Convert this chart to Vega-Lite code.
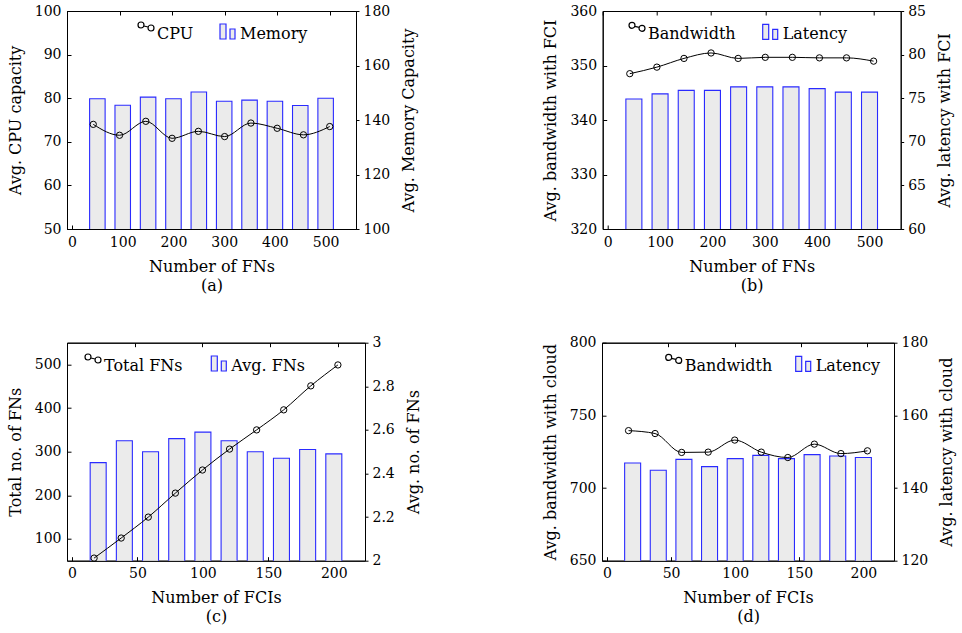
{
  "$schema": "https://vega.github.io/schema/vega-lite/v6.json",
  "padding": {"left": 6, "top": 3, "right": 5, "bottom": 5},
  "background": "white",
  "config": {
    "font": "DejaVu Serif",
    "view": {"stroke": "black", "strokeWidth": 1},
    "axis": {"domainColor": "black", "tickColor": "black", "labelColor": "black", "titleColor": "black", "labelFontSize": 14, "titleFontSize": 16, "titleFontWeight": "normal", "grid": false, "labelFont": "DejaVu Serif", "titleFont": "DejaVu Serif", "labelOverlap": false, "labelFlush": false, "domainWidth": 1, "tickWidth": 1},
    "legend": {"labelFontSize": 16, "labelFont": "DejaVu Serif", "labelColor": "black", "orient": "none", "padding": 0, "symbolSize": 400, "labelOffset": 0, "title": null, "symbolStrokeWidth": 1.2}
  },
  "datasets": {
    "a": [
      {"n": 50, "cpu": 74.0, "memory": 147.8},
      {"n": 100, "cpu": 71.5, "memory": 145.4},
      {"n": 150, "cpu": 74.7, "memory": 148.4},
      {"n": 200, "cpu": 70.8, "memory": 147.8},
      {"n": 250, "cpu": 72.4, "memory": 150.3},
      {"n": 300, "cpu": 71.2, "memory": 146.9},
      {"n": 350, "cpu": 74.3, "memory": 147.3},
      {"n": 400, "cpu": 73.1, "memory": 146.9},
      {"n": 450, "cpu": 71.6, "memory": 145.3},
      {"n": 500, "cpu": 73.5, "memory": 148.0}
    ],
    "b": [
      {"n": 50, "bandwidth": 348.5, "latency": 74.9},
      {"n": 100, "bandwidth": 349.7, "latency": 75.5},
      {"n": 150, "bandwidth": 351.3, "latency": 75.9},
      {"n": 200, "bandwidth": 352.3, "latency": 75.9},
      {"n": 250, "bandwidth": 351.3, "latency": 76.3},
      {"n": 300, "bandwidth": 351.5, "latency": 76.3},
      {"n": 350, "bandwidth": 351.5, "latency": 76.3},
      {"n": 400, "bandwidth": 351.4, "latency": 76.1},
      {"n": 450, "bandwidth": 351.4, "latency": 75.7},
      {"n": 500, "bandwidth": 350.8, "latency": 75.7}
    ],
    "c": [
      {"fci": 20, "total": 56, "avg": 2.45},
      {"fci": 40, "total": 102, "avg": 2.55},
      {"fci": 60, "total": 150, "avg": 2.5},
      {"fci": 80, "total": 205, "avg": 2.56},
      {"fci": 100, "total": 258, "avg": 2.59},
      {"fci": 120, "total": 306, "avg": 2.55},
      {"fci": 140, "total": 350, "avg": 2.5},
      {"fci": 160, "total": 396, "avg": 2.47},
      {"fci": 180, "total": 451, "avg": 2.51},
      {"fci": 200, "total": 499, "avg": 2.49}
    ],
    "d": [
      {"fci": 20, "bandwidth": 739.5, "latency": 146.9},
      {"fci": 40, "bandwidth": 737.5, "latency": 144.9},
      {"fci": 60, "bandwidth": 724.5, "latency": 147.9},
      {"fci": 80, "bandwidth": 724.7, "latency": 145.9},
      {"fci": 100, "bandwidth": 733.0, "latency": 148.1},
      {"fci": 120, "bandwidth": 724.7, "latency": 149.0},
      {"fci": 140, "bandwidth": 721.0, "latency": 148.1},
      {"fci": 160, "bandwidth": 730.2, "latency": 149.2},
      {"fci": 180, "bandwidth": 723.7, "latency": 148.8},
      {"fci": 200, "bandwidth": 725.6, "latency": 148.4}
    ]
  },
  "bounds": "flush",
  "spacing": 331.7,
  "vconcat": [
    {
      "bounds": "flush",
      "spacing": 246.7,
      "hconcat": [
        {
          "width": 289, "height": 218,
          "data": {"name": "a"},
          "layer": [
            {
              "mark": {"type": "bar", "stroke": "#2a2aff", "strokeWidth": 1.1, "size": 15.5, "clip": true},
              "encoding": {
                "x": {"field": "n", "type": "quantitative", "scale": {"domain": [0, 550]}, "axis": {"orient": "bottom", "values": [0, 100, 200, 300, 400, 500], "tickSize": -4, "labelPadding": 10, "title": ["Number of FNs", "(a)"], "titlePadding": 9, "titleLineHeight": 19}},
                "y": {"field": "memory", "type": "quantitative", "scale": {"domain": [100, 180]}, "axis": {"orient": "right", "values": [100, 120, 140, 160, 180], "tickSize": 3, "labelPadding": 4, "title": "Avg. Memory Capacity", "titleAngle": -90, "titleBaseline": "top", "titlePadding": 11}},
                "fill": {"datum": "Memory", "type": "nominal", "scale": {"range": ["#ebebeb"]}, "legend": {"legendX": 151, "legendY": 12, "symbolType": "M -0.9 -1 H -0.3 V 0.5 H -0.9 Z M 0.1 -0.5 H 0.6 V 0.5 H 0.1 Z", "symbolStrokeColor": "#2a2aff"}}
              }
            },
            {
              "mark": {"type": "line", "strokeWidth": 1, "interpolate": "monotone", "point": {"filled": false, "size": 40, "strokeWidth": 1}},
              "encoding": {
                "x": {"field": "n", "type": "quantitative", "scale": {"domain": [0, 550]}, "axis": {"orient": "top", "values": [0, 100, 200, 300, 400, 500], "tickSize": -4, "labels": false, "title": null}},
                "y": {"field": "cpu", "type": "quantitative", "scale": {"domain": [50, 100]}, "axis": {"orient": "left", "values": [50, 60, 70, 80, 90, 100], "tickSize": -4, "labelPadding": 10, "title": "Avg. CPU capacity", "titlePadding": 11}},
                "stroke": {"datum": "CPU", "type": "nominal", "scale": {"range": ["black"]}, "legend": {"legendX": 68, "legendY": 12, "symbolType": "M -0.8 -0.9 A 0.3 0.3 0 1 0 -0.2 -0.9 A 0.3 0.3 0 1 0 -0.8 -0.9 Z M 0.2 -0.6 A 0.3 0.3 0 1 0 0.8 -0.6 A 0.3 0.3 0 1 0 0.2 -0.6 Z M -0.22 -0.8 L 0.22 -0.7", "symbolFillColor": "transparent"}}
              }
            }
          ],
          "resolve": {"scale": {"x": "independent", "y": "independent", "fill": "independent", "stroke": "independent"}}
        },
        {
          "width": 298, "height": 218,
          "data": {"name": "b"},
          "layer": [
            {
              "mark": {"type": "bar", "stroke": "#2a2aff", "strokeWidth": 1.1, "size": 16, "clip": true},
              "encoding": {
                "x": {"field": "n", "type": "quantitative", "scale": {"domain": [0, 550]}, "axis": {"orient": "bottom", "values": [0, 100, 200, 300, 400, 500], "tickSize": -4, "labelPadding": 10, "title": ["Number of FNs", "(b)"], "titlePadding": 9, "titleLineHeight": 19}},
                "y": {"field": "latency", "type": "quantitative", "scale": {"domain": [60, 85]}, "axis": {"orient": "right", "values": [60, 65, 70, 75, 80, 85], "tickSize": 3, "labelPadding": 4, "title": "Avg. latency with FCI", "titleAngle": -90, "titleBaseline": "top", "titlePadding": 11}},
                "fill": {"datum": "Latency", "type": "nominal", "scale": {"range": ["#ebebeb"]}, "legend": {"legendX": 158, "legendY": 12.3, "symbolType": "M -0.9 -1 H -0.3 V 0.5 H -0.9 Z M 0.1 -0.5 H 0.6 V 0.5 H 0.1 Z", "symbolStrokeColor": "#2a2aff"}}
              }
            },
            {
              "mark": {"type": "line", "strokeWidth": 1, "interpolate": "monotone", "point": {"filled": false, "size": 40, "strokeWidth": 1}},
              "encoding": {
                "x": {"field": "n", "type": "quantitative", "scale": {"domain": [0, 550]}, "axis": {"orient": "top", "values": [0, 100, 200, 300, 400, 500], "tickSize": -4, "labels": false, "title": null}},
                "y": {"field": "bandwidth", "type": "quantitative", "scale": {"domain": [320, 360]}, "axis": {"orient": "left", "values": [320, 330, 340, 350, 360], "tickSize": -4, "labelPadding": 10, "title": "Avg. bandwidth with FCI", "titlePadding": 11}},
                "stroke": {"datum": "Bandwidth", "type": "nominal", "scale": {"range": ["black"]}, "legend": {"legendX": 23.3, "legendY": 12.3, "symbolType": "M -0.8 -0.9 A 0.3 0.3 0 1 0 -0.2 -0.9 A 0.3 0.3 0 1 0 -0.8 -0.9 Z M 0.2 -0.6 A 0.3 0.3 0 1 0 0.8 -0.6 A 0.3 0.3 0 1 0 0.2 -0.6 Z M -0.22 -0.8 L 0.22 -0.7", "symbolFillColor": "transparent"}}
              }
            }
          ],
          "resolve": {"scale": {"x": "independent", "y": "independent", "fill": "independent", "stroke": "independent"}}
        }
      ]
    },
    {
      "bounds": "flush",
      "spacing": 237,
      "hconcat": [
        {
          "width": 298, "height": 218,
          "data": {"name": "c"},
          "layer": [
            {
              "mark": {"type": "bar", "stroke": "#2a2aff", "strokeWidth": 1.1, "size": 16, "clip": true},
              "encoding": {
                "x": {"field": "fci", "type": "quantitative", "scale": {"domain": [0, 220]}, "axis": {"orient": "bottom", "values": [0, 50, 100, 150, 200], "tickSize": -4, "labelPadding": 10, "title": ["Number of FCIs", "(c)"], "titlePadding": 9, "titleLineHeight": 19}},
                "y": {"field": "avg", "type": "quantitative", "scale": {"domain": [2, 3]}, "axis": {"orient": "right", "values": [2, 2.2, 2.4, 2.6, 2.8, 3], "format": "~g", "tickSize": 3, "labelPadding": 4, "title": "Avg. no. of FNs", "titleAngle": -90, "titleBaseline": "top", "titlePadding": 11}},
                "fill": {"datum": "Avg. FNs", "type": "nominal", "scale": {"range": ["#ebebeb"]}, "legend": {"legendX": 142.3, "legendY": 12.3, "symbolType": "M -0.9 -1 H -0.3 V 0.5 H -0.9 Z M 0.1 -0.5 H 0.6 V 0.5 H 0.1 Z", "symbolStrokeColor": "#2a2aff"}}
              }
            },
            {
              "mark": {"type": "line", "strokeWidth": 1, "interpolate": "monotone", "point": {"filled": false, "size": 40, "strokeWidth": 1}},
              "encoding": {
                "x": {"field": "fci", "type": "quantitative", "scale": {"domain": [0, 220]}, "axis": {"orient": "top", "values": [0, 50, 100, 150, 200], "tickSize": -4, "labels": false, "title": null}},
                "y": {"field": "total", "type": "quantitative", "scale": {"domain": [50, 550]}, "axis": {"orient": "left", "values": [100, 200, 300, 400, 500], "tickSize": -4, "labelPadding": 10, "title": "Total no. of FNs", "titlePadding": 11}},
                "stroke": {"datum": "Total FNs", "type": "nominal", "scale": {"range": ["black"]}, "legend": {"legendX": 15, "legendY": 12.3, "symbolType": "M -0.8 -0.9 A 0.3 0.3 0 1 0 -0.2 -0.9 A 0.3 0.3 0 1 0 -0.8 -0.9 Z M 0.2 -0.6 A 0.3 0.3 0 1 0 0.8 -0.6 A 0.3 0.3 0 1 0 0.2 -0.6 Z M -0.22 -0.8 L 0.22 -0.7", "symbolFillColor": "transparent"}}
              }
            }
          ],
          "resolve": {"scale": {"x": "independent", "y": "independent", "fill": "independent", "stroke": "independent"}}
        },
        {
          "width": 292, "height": 218,
          "data": {"name": "d"},
          "layer": [
            {
              "mark": {"type": "bar", "stroke": "#2a2aff", "strokeWidth": 1.1, "size": 16, "clip": true},
              "encoding": {
                "x": {"field": "fci", "type": "quantitative", "scale": {"domain": [0, 220]}, "axis": {"orient": "bottom", "values": [0, 50, 100, 150, 200], "tickSize": -4, "labelPadding": 10, "title": ["Number of FCIs", "(d)"], "titlePadding": 9, "titleLineHeight": 19}},
                "y": {"field": "latency", "type": "quantitative", "scale": {"domain": [120, 180]}, "axis": {"orient": "right", "values": [120, 140, 160, 180], "tickSize": 3, "labelPadding": 4, "title": "Avg. latency with cloud", "titleAngle": -90, "titleBaseline": "top", "titlePadding": 11}},
                "fill": {"datum": "Latency", "type": "nominal", "scale": {"range": ["#ebebeb"]}, "legend": {"legendX": 191.7, "legendY": 12.7, "symbolType": "M -0.9 -1 H -0.3 V 0.5 H -0.9 Z M 0.1 -0.5 H 0.6 V 0.5 H 0.1 Z", "symbolStrokeColor": "#2a2aff"}}
              }
            },
            {
              "mark": {"type": "line", "strokeWidth": 1, "interpolate": "monotone", "point": {"filled": false, "size": 40, "strokeWidth": 1}},
              "encoding": {
                "x": {"field": "fci", "type": "quantitative", "scale": {"domain": [0, 220]}, "axis": {"orient": "top", "values": [0, 50, 100, 150, 200], "tickSize": -4, "labels": false, "title": null}},
                "y": {"field": "bandwidth", "type": "quantitative", "scale": {"domain": [650, 800]}, "axis": {"orient": "left", "values": [650, 700, 750, 800], "tickSize": -4, "labelPadding": 10, "title": "Avg. bandwidth with cloud", "titlePadding": 11}},
                "stroke": {"datum": "Bandwidth", "type": "nominal", "scale": {"range": ["black"]}, "legend": {"legendX": 60.7, "legendY": 12.7, "symbolType": "M -0.8 -0.9 A 0.3 0.3 0 1 0 -0.2 -0.9 A 0.3 0.3 0 1 0 -0.8 -0.9 Z M 0.2 -0.6 A 0.3 0.3 0 1 0 0.8 -0.6 A 0.3 0.3 0 1 0 0.2 -0.6 Z M -0.22 -0.8 L 0.22 -0.7", "symbolFillColor": "transparent"}}
              }
            }
          ],
          "resolve": {"scale": {"x": "independent", "y": "independent", "fill": "independent", "stroke": "independent"}}
        }
      ]
    }
  ]
}
